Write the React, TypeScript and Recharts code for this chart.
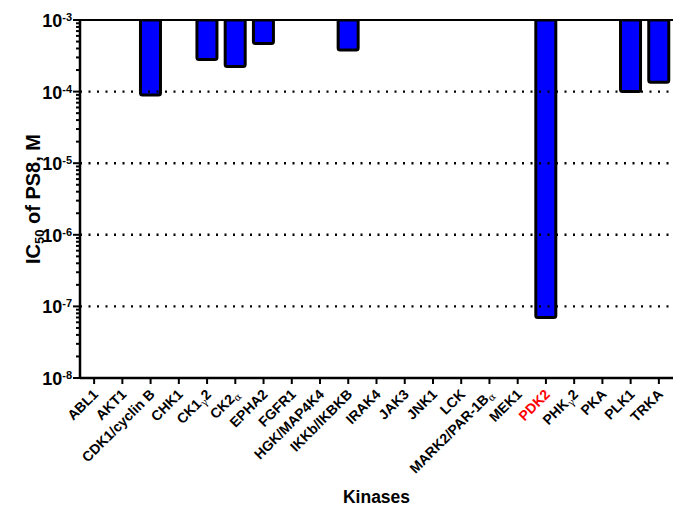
import { BarChart, Bar, XAxis, YAxis, ReferenceLine, Label } from 'recharts'

const KINASES = [
  'ABL1', 'AKT1', 'CDK1/cyclin B', 'CHK1', 'CK1γ2', 'CK2α', 'EPHA2', 'FGFR1', 'HGK/MAP4K4',
  'IKKb/IKBKB', 'IRAK4', 'JAK3', 'JNK1', 'LCK', 'MARK2/PAR-1Bα', 'MEK1', 'PDK2', 'PHKγ2',
  'PKA', 'PLK1', 'TRKA',
]
// IC50 in M, null = not inhibited up to the top concentration
const IC50 = [
  null, null, 9e-5, null, 2.8e-4, 2.25e-4, 4.7e-4, null, null,
  3.8e-4, null, null, null, null, null, null, 7e-8, null,
  null, 1e-4, 1.35e-4,
]
const TOP_CONC = 1e-3
const HIGHLIGHT = 'PDK2'

const MAJOR_TICKS = [1e-8, 1e-7, 1e-6, 1e-5, 1e-4, 1e-3]
const MINOR_FACTORS = [2, 3, 4, 5, 6, 7, 8, 9]
const GRID_LINES = [1e-7, 1e-6, 1e-5, 1e-4]

const yTicks = [
  ...MAJOR_TICKS,
  ...MAJOR_TICKS.slice(0, -1).flatMap(m => MINOR_FACTORS.map(f => m * f)),
]

const data = KINASES.map((name, i) => ({
  name,
  range: IC50[i] == null ? null : [IC50[i], TOP_CONC],
}))

const FONT = 'Arial, "Liberation Sans", sans-serif'
const GREEK = /[α-ω]/

function XTick({ x, y, payload }: any) {
  const label: string = payload.value
  const color = label === HIGHLIGHT ? '#ff0000' : '#000'
  return (
    <g transform={`translate(${x}, ${y}) rotate(-45)`}>
      <text
        x={-3}
        y={10}
        textAnchor="end"
        fontFamily={FONT}
        fontWeight="bold"
        fontSize={14}
        fill={color}
      >
        {label.split('').map((ch, i) =>
          GREEK.test(ch) ? (
            <tspan key={i} fontFamily='"DejaVu Serif", serif' fontWeight="normal" fontSize={10} dy={3}>
              {ch}
            </tspan>
          ) : i > 0 && GREEK.test(label[i - 1]) ? (
            <tspan key={i} dy={-3}>{ch}</tspan>
          ) : (
            <tspan key={i}>{ch}</tspan>
          )
        )}
      </text>
    </g>
  )
}

function YTick({ x, y, payload }: any) {
  const v: number = payload.value
  const exp = Math.log10(v)
  const major = Math.abs(exp - Math.round(exp)) < 1e-6
  return (
    <g>
      <line x1={x - (major ? 7 : 4)} x2={x} y1={y} y2={y} stroke="#000" strokeWidth={2} />
      {major && (
        <text x={x - 8} y={y} dy={7} textAnchor="end" fontFamily={FONT} fontWeight="bold" fill="#000">
          <tspan fontSize={18}>10</tspan>
          <tspan fontSize={11} dy={-6}>{Math.round(exp)}</tspan>
        </text>
      )}
    </g>
  )
}

function YLabel({ viewBox }: any) {
  const cx = 40
  const cy = viewBox.y + viewBox.height / 2
  return (
    <text
      x={cx}
      y={cy}
      textAnchor="middle"
      transform={`rotate(-90, ${cx}, ${cy})`}
      fontFamily={FONT}
      fontWeight="bold"
      fontSize={20}
      fill="#000"
    >
      IC<tspan fontSize={13} dy={4}>50</tspan><tspan dy={-4}> of PS8, M</tspan>
    </text>
  )
}

export default function App() {
  return (
    <div style={{ position: 'absolute', left: 0, top: 0, background: '#fff' }}>
      <BarChart
        width={673}
        height={508}
        data={data}
        margin={{ top: 20, right: 0, left: 0, bottom: 0 }}
        barSize={20}
      >
        {GRID_LINES.map(v => (
          <ReferenceLine
            key={v}
            y={v}
            stroke="#000"
            strokeWidth={2.4}
            strokeDasharray="2 6.5"
          />
        ))}
        <ReferenceLine y={TOP_CONC} stroke="#000" strokeWidth={2} />
        <XAxis
          dataKey="name"
          interval={0}
          height={130}
          tick={<XTick />}
          tickSize={6}
          tickMargin={2}
          tickLine={{ stroke: '#000', strokeWidth: 2 }}
          axisLine={{ stroke: '#000', strokeWidth: 2.5 }}
        >
          <Label
            value="Kinases"
            position="insideBottom"
            offset={5}
            style={{ fontFamily: FONT, fontWeight: 'bold', fontSize: 17.5, fill: '#000' }}
          />
        </XAxis>
        <YAxis
          type="number"
          scale="log"
          domain={[1e-8, 1e-3]}
          allowDataOverflow
          ticks={yTicks}
          interval={0}
          width={80}
          tickSize={0}
          tickMargin={0}
          tickLine={false}
          tick={<YTick />}
          axisLine={{ stroke: '#000', strokeWidth: 2.5 }}
        >
          <Label content={<YLabel />} />
        </YAxis>
        <Bar
          dataKey="range"
          fill="#0000ff"
          stroke="#000"
          strokeWidth={3}
          radius={[0, 0, 2, 2]}
          isAnimationActive={false}
        />
      </BarChart>
    </div>
  )
}
